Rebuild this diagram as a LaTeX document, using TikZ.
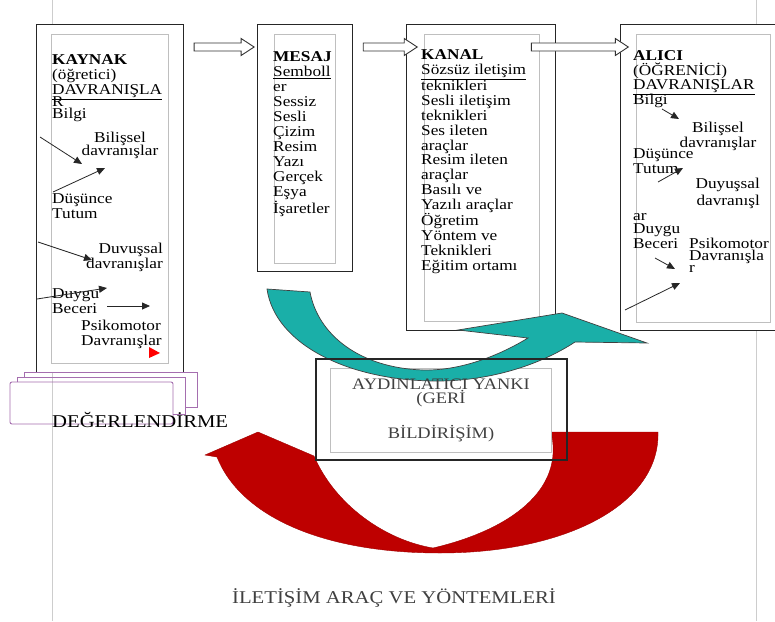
\documentclass[tikz,border=0pt]{standalone}
\usepackage{fontspec}
\setmainfont{Liberation Serif}[FakeStretch=1.15]
\usepackage{xcolor}
\usetikzlibrary{arrows.meta,positioning,calc}
\definecolor{turkuaz}{RGB}{26,175,168}
\definecolor{bordo}{RGB}{190,0,0}
\definecolor{mor}{RGB}{165,110,175}
\definecolor{sayfa}{RGB}{205,205,205}
\newcommand{\kutuyazi}{\fontsize{15}{14.8}\selectfont}
\newcommand{\blokok}[2]{%
  \filldraw[blokcizgi] ($(#1)+(0,-4)$) -- ($(#2)+(-13,-4)$) -- ($(#2)+(-13,-8.5)$) -- (#2)
    -- ($(#2)+(-13,8.5)$) -- ($(#2)+(-13,4)$) -- ($(#1)+(0,4)$) -- cycle;}

\begin{document}
\begin{tikzpicture}[x=1pt,y=-1pt,
  dis/.style={draw=black!85,line width=1.1pt,fill=white,inner sep=0pt},
  ic/.style={draw=black!25,line width=0.9pt,inner sep=0pt},
  yazi/.style={font=\kutuyazi,align=left,inner sep=0pt,anchor=base west},
  ok/.style={-{Triangle[length=8pt,width=7pt]},line width=0.8pt,black!85},
  blokcizgi/.style={draw=black!80,line width=0.9pt,fill=white},
  buyuk/.style={font=\fontsize{18}{18}\selectfont,inner sep=0pt,anchor=base west}]
  \useasboundingbox (0,0) rectangle (775,621);
  \clip (0,0) rectangle (775,621);
  \fill[white] (0,0) rectangle (775,621);
  % sayfa kenarlari
  \draw[sayfa,line width=0.9pt] (52,0) -- (52,621);
  \draw[sayfa,line width=0.9pt] (756,0) -- (756,621);

  % kutular
  \node[dis,minimum width=147,minimum height=348,anchor=north west] (kaynak) at (36,24) {};
  \node[ic,minimum width=117,minimum height=329] (kaynakic) at (kaynak.center) {};
  \node[dis,minimum width=95,minimum height=247,right=73pt of kaynak.north east,anchor=north west] (mesaj) {};
  \node[ic,minimum width=61,minimum height=229] (mesajic) at ([yshift=-1pt]mesaj.center) {};
  \node[dis,minimum width=149,minimum height=306,right=53pt of mesaj.north east,anchor=north west] (kanal) {};
  \node[ic,minimum width=115,minimum height=287] (kanalic) at ([xshift=1pt]kanal.center) {};
  \node[dis,minimum width=173,minimum height=306,right=64pt of kanal.north east,anchor=north west] (alici) {};
  \node[ic,minimum width=134,minimum height=288] (aliciic) at ([xshift=-3.5pt,yshift=-1pt]alici.center) {};

  % KAYNAK (cok satirli dugumler son satirin tabanina oturur)
  \node[yazi] (kaynakbas) at (52,118) {\textbf{KAYNAK}\\(öğretici)\\\underline{DAVRANIŞLA}\\[-4pt]R\\[-3pt]Bilgi};
  \node[yazi,anchor=base,align=center] (kaynakbilis) at (120,155) {Bilişsel\\[-2pt]davranışlar};
  \node[yazi] (kaynakdus) at (52,218) {Düşünce\\Tutum};
  \node[yazi,anchor=base east,align=right] (kaynakduy) at (163,268) {Duvuşsal\\davranışlar};
  \node[yazi] (kaynakbec) at (52,313) {Duygu\\Beceri};
  \node[yazi] (kaynakpsi) at (81,345) {Psikomotor\\Davranışlar};
  \coordinate (k1a) at (40,137);  \coordinate (k1b) at (82,164);
  \coordinate (k2a) at (53,192);  \coordinate (k2b) at (105,168);
  \coordinate (k3a) at (38,242);  \coordinate (k3b) at (92,260);
  \coordinate (k4a) at (37,299);  \coordinate (k4b) at (107,288);
  \coordinate (k5a) at (107,306); \coordinate (k5b) at (150,306);
  \draw[ok] (k1a) -- (k1b);
  \draw[ok] (k2a) -- (k2b);
  \draw[ok] (k3a) -- (k3b);
  \draw[ok] (k4a) -- (k4b);
  \draw[ok] (k5a) -- (k5b);
  \fill[red] (149,347) -- (160,353) -- (149,358) -- cycle;

  % MESAJ
  \node[yazi,font=\fontsize{15}{15}\selectfont] (mesajyazi) at (273,213)
    {\textbf{MESAJ}\\\underline{Semboll}\\er\\Sessiz\\Sesli\\Çizim\\Resim\\Yazı\\Gerçek\\Eşya\\İşaretler};

  % KANAL
  \node[yazi] (kanalyazi) at (421,270)
    {\textbf{KANAL}\\\underline{Sözsüz iletişim}\\teknikleri\\Sesli iletişim\\teknikleri\\Ses ileten\\araçlar\\Resim ileten\\araçlar\\Basılı ve\\Yazılı araçlar\\Öğretim\\Yöntem ve\\Teknikleri\\Eğitim ortamı};

  % ALICI
  \node[yazi,font=\fontsize{15}{14.3}\selectfont] (alicibas) at (633,104) {\textbf{ALICI}\\(ÖĞRENİCİ)\\\underline{DAVRANIŞLAR}\\[-2pt]Bilgi};
  \node[yazi,anchor=base,align=center] (alicibilis) at (718,147) {Bilişsel\\davranışlar};
  \node[yazi,font=\fontsize{15}{13}\selectfont] (alicidus) at (633,173) {Düşünce\\Tutum};
  \node[yazi,anchor=base east,align=right,font=\fontsize{15}{17}\selectfont] (aliciduy) at (760,205) {Duyuşsal\\davranışl};
  \node[yazi,font=\fontsize{15}{13}\selectfont] (aliciduygu) at (633,248) {ar\\Duygu\\Beceri};
  \node[yazi,font=\fontsize{15}{12}\selectfont] (alicipsi) at (689,272) {Psikomotor\\Davranışla\\r};
  \coordinate (a1a) at (662,109); \coordinate (a1b) at (679,119);
  \coordinate (a2a) at (658,182); \coordinate (a2b) at (683,168);
  \coordinate (a3a) at (655,258); \coordinate (a3b) at (675,269);
  \coordinate (a4a) at (625,310); \coordinate (a4b) at (680,283);
  \draw[ok] (a1a) -- (a1b);
  \draw[ok] (a2a) -- (a2b);
  \draw[ok] (a3a) -- (a3b);
  \draw[ok] (a4a) -- (a4b);

  % DEGERLENDIRME
  \draw[mor,line width=0.9pt] (24,377) |- (197,372) |- (185,407);
  \draw[mor,line width=0.9pt] (17,382) |- (185,377) |- (173,414);
  \draw[mor,line width=0.9pt,rounded corners=2pt] (10,382) rectangle (173,424);
  \node[buyuk] (degerlendirme) at (52,427) {DEĞERLENDİRME};

  % geri bildirim oku
  \filldraw[fill=bordo,draw=bordo!85!black,line width=0.4pt] (314,456)
    .. controls (335,505) and (385,540) .. (433,548)
    .. controls (510,530) and (565,490) .. (551,432) -- (658,432)
    .. controls (660,505) and (565,553) .. (440,553)
    .. controls (320,553) and (240,515) .. (217,457) -- (205,455) -- (258,432) -- cycle;
  \node[ic,fill=white,minimum width=221,minimum height=84] (yankiic) at (440.5,410) {};
  \filldraw[fill=turkuaz,draw=black!75,line width=0.7pt] (267,289) -- (310,292)
    .. controls (318,335) and (360,368) .. (423,370)
    .. controls (465,371) and (505,352) .. (528,338) -- (458,330) -- (562,313) -- (647,343) -- (575,342)
    .. controls (540,365) and (490,381) .. (437,381)
    .. controls (350,381) and (275,345) .. (267,289) -- cycle;
  \node[draw=black!85,line width=1.1pt,minimum width=251,minimum height=101,inner sep=0pt] (yanki) at (441.5,409.5) {};
  \node[font=\fontsize{16}{13}\selectfont,text=black!75,align=center,anchor=base,inner sep=0pt] (yankiyazi) at (441,438)
    {AYDINLATICI YANKI\\(GERİ\\[17pt]BİLDİRİŞİM)};

  \node[buyuk,text=black!75] (baslik) at (232,603) {İLETİŞİM ARAÇ VE YÖNTEMLERİ};

  % kutular arasi oklar
  \coordinate (o1a) at ([xshift=10pt,yshift=-23pt]kaynak.north east);
  \coordinate (o1b) at ([xshift=-3pt,yshift=-23pt]mesaj.north west);
  \coordinate (o2a) at ([xshift=10pt,yshift=-23pt]mesaj.north east);
  \coordinate (o2b) at ([xshift=11pt,yshift=-23pt]kanal.north west);
  \coordinate (o3a) at ([xshift=-25pt,yshift=-23pt]kanal.north east);
  \coordinate (o3b) at ([xshift=8pt,yshift=-23pt]alici.north west);
  \blokok{o1a}{o1b}
  \blokok{o2a}{o2b}
  \blokok{o3a}{o3b}
\end{tikzpicture}
\end{document}
